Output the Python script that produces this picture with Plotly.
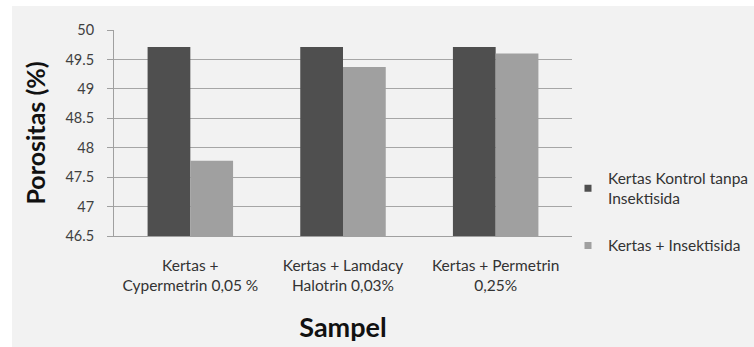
import plotly.graph_objects as go

categories = ["Kertas +<br>Cypermetrin 0,05 %", "Kertas + Lamdacy<br>Halotrin 0,03%", "Kertas + Permetrin<br>0,25%"]
kontrol = [49.71, 49.71, 49.71]
insektisida = [47.78, 49.37, 49.60]
series_names = ["Kertas Kontrol tanpa<br>Insektisida", "Kertas + Insektisida"]
series_colors = ["#4f4f4f", "#a0a0a0"]
y_ticks = [46.5, 47, 47.5, 48, 48.5, 49, 49.5, 50]

FONT = "Lato"
x_idx = [0, 1, 2]

fig = go.Figure()
fig.add_trace(go.Bar(x=x_idx, y=kontrol, name=series_names[0], showlegend=False,
                     marker=dict(color=series_colors[0], line=dict(width=0))))
fig.add_trace(go.Bar(x=x_idx, y=insektisida, name=series_names[1], showlegend=False,
                     marker=dict(color=series_colors[1], line=dict(width=0))))
# legend entries with small square swatches
for i, (nm, col) in enumerate(zip(series_names, series_colors)):
    fig.add_trace(go.Scatter(x=[None], y=[None], mode="markers", name=nm,
                             legendgroup=f"g{i}",
                             marker=dict(symbol="square", size=7, color=col)))

L, R, T, B = 114, 572, 30, 236
W, H = 754, 347
pw, ph = R - L, B - T

def px(x):
    return (x - L) / pw

def py(y):
    return (B - y) / ph

fig.add_shape(type="rect", xref="paper", yref="paper", x0=px(12), x1=px(770), y0=py(6), y1=py(370),
              fillcolor="#f2f2f2", line=dict(width=0), layer="below")

fig.update_layout(
    width=W, height=H,
    margin=dict(l=L, r=W - R, t=T, b=H - B, autoexpand=False),
    paper_bgcolor="white",
    plot_bgcolor="white",
    barmode="group",
    bargap=0.44,
    bargroupgap=0,
    font=dict(family=FONT, size=14, color="#404040"),
    showlegend=True,
    legend=dict(x=px(568), xanchor="left", y=py(212), yanchor="middle",
                font=dict(family=FONT, size=15.5, color="#333333"),
                bgcolor="rgba(0,0,0,0)", traceorder="grouped", tracegroupgap=24,
                itemwidth=30),
    xaxis=dict(tickmode="array", tickvals=x_idx, ticktext=categories,
               range=[-0.5, 2.5], showgrid=False, zeroline=False,
               showline=True, linecolor="#a0a0a0", linewidth=1,
               ticks="outside", ticklen=15, tickcolor="rgba(0,0,0,0)",
               tickfont=dict(family=FONT, size=15.5, color="#333333"),
               title=dict(text="<b>Sampel</b>", font=dict(family=FONT, size=27, color="#111111"), standoff=25)),
    yaxis=dict(range=[46.5, 50], tickmode="array", tickvals=y_ticks,
               ticktext=[f"{v:g}" for v in y_ticks],
               showgrid=True, gridcolor="#a6a6a6", gridwidth=1,
               showline=True, linecolor="#a0a0a0", linewidth=1,
               ticks="outside", ticklen=6, tickcolor="#a0a0a0",
               ticklabelstandoff=10,
               zeroline=False,
               tickfont=dict(family=FONT, size=14.5, color="#404040"),
               title=dict(text="<b>Porositas (%)</b>", font=dict(family=FONT, size=25, color="#111111"), standoff=12)),
)

fig.write_html("out.html")
